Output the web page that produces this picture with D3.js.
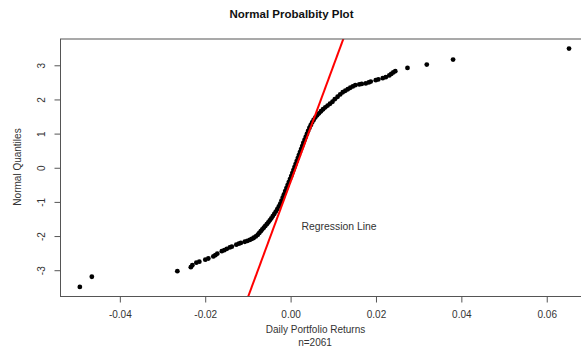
<!DOCTYPE html>
<html>
<head>
<meta charset="utf-8">
<script src="https://cdn.jsdelivr.net/npm/d3@7"></script>
<style>
  html, body { margin: 0; padding: 0; background: #fff; }
  svg { display: block; font-family: "Liberation Sans", Arial, sans-serif; }
</style>
</head>
<body>
<svg id="chart" width="581" height="347"></svg>
<script>
// Sorted daily portfolio returns (x)
const returns = [
  -0.04937, -0.04656, -0.02653, -0.02337, -0.02302, -0.02208, -0.02138, -0.01998, -0.01927, -0.01810,
  -0.01763, -0.01717, -0.01611, -0.01553, -0.01494, -0.01424, -0.01377, -0.01272, -0.01213, -0.01166,
  -0.01073, -0.01014, -0.00956, -0.00909, -0.00862, -0.00815, -0.00768, -0.00733, -0.00698, -0.00663,
  -0.00628, -0.00593, -0.00557, -0.00522, -0.00487, -0.00452, -0.00417, -0.00382, -0.00347, -0.00311,
  -0.00276, -0.00241, -0.00213, -0.00183, -0.00155, -0.00126, -0.00098, -0.00070, -0.00042, -0.00014,
   0.00014,  0.00040,  0.00066,  0.00091,  0.00117,  0.00143,  0.00169,  0.00194,  0.00220,  0.00246,
   0.00272,  0.00297,  0.00326,  0.00354,  0.00382,  0.00410,  0.00440,  0.00471,  0.00504,  0.00539,
   0.00578,  0.00621,  0.00665,  0.00712,  0.00761,  0.00813,  0.00867,  0.00923,  0.00981,  0.01035,
   0.01101,  0.01162,  0.01222,  0.01281,  0.01340,  0.01398,  0.01457,  0.01515,  0.01609,  0.01667,
   0.01761,  0.01831,  0.01878,  0.01995,  0.02054,  0.02159,  0.02230,  0.02311,  0.02358,  0.02405,
   0.02452,  0.02738,  0.03190,  0.03806,  0.06522
];
// Matching normal quantiles (y)
const quantiles = [
  -3.490, -3.191, -3.029, -2.912, -2.853, -2.780, -2.751, -2.692, -2.657, -2.598,
  -2.560, -2.516, -2.443, -2.413, -2.375, -2.334, -2.311, -2.252, -2.223, -2.202,
  -2.167, -2.144, -2.114, -2.085, -2.050, -2.012, -1.962, -1.909, -1.856, -1.804,
  -1.754, -1.704, -1.651, -1.598, -1.540, -1.481, -1.416, -1.352, -1.284, -1.211,
  -1.132, -1.050, -0.962, -0.868, -0.777, -0.683, -0.595, -0.507, -0.419, -0.331,
  -0.243, -0.155, -0.067,  0.021,  0.109,  0.196,  0.284,  0.372,  0.460,  0.548,
   0.636,  0.724,  0.812,  0.900,  0.988,  1.076,  1.164,  1.246,  1.326,  1.399,
   1.469,  1.534,  1.595,  1.654,  1.713,  1.768,  1.821,  1.874,  1.933,  2.009,
   2.079,  2.147,  2.211,  2.255,  2.299,  2.343,  2.381,  2.419,  2.440,  2.455,
   2.469,  2.499,  2.522,  2.563,  2.587,  2.622,  2.651,  2.704,  2.748,  2.792,
   2.827,  2.924,  3.021,  3.167,  3.490
];
const xTicks = [-0.04, -0.02, 0.00, 0.02, 0.04, 0.06];
const xTickLabels = ["-0.04", "-0.02", "0.00", "0.02", "0.04", "0.06"];
const yTicks = [-3, -2, -1, 0, 1, 2, 3];
const yTickLabels = ["-3", "-2", "-1", "0", "1", "2", "3"];
const regIntercept = -0.41;
const regSlope = 338.5;
const titleText = "Normal Probalbity Plot";
const xLabel = "Daily Portfolio Returns";
const subLabel = "n=2061";
const yLabel = "Normal Quantiles";
const regLabel = "Regression Line";

(function () {
  const svg = d3.select("#chart");
  svg.append("rect").attr("width", 581).attr("height", 347).attr("fill", "#fff");

  const pL = 60.5, pR = 589, pT = 39, pB = 296.5;
  const x = d3.scaleLinear().domain([-0.0539, 0.0699]).range([pL, pR]);
  const y = d3.scaleLinear().domain([-3.77, 3.77]).range([pB, pT]);

  svg.append("defs").append("clipPath").attr("id", "plotclip")
    .append("rect").attr("x", pL).attr("y", pT).attr("width", pR - pL).attr("height", pB - pT);

  // Points
  const pts = returns.map((r, i) => [r, quantiles[i]]);
  svg.append("g").selectAll("circle").data(pts).join("circle")
    .attr("cx", d => x(d[0])).attr("cy", d => y(d[1])).attr("r", 2.4).attr("fill", "#000");

  // Regression line
  const xd = x.domain();
  svg.append("line")
    .attr("clip-path", "url(#plotclip)")
    .attr("x1", x(xd[0])).attr("y1", y(regIntercept + regSlope * xd[0]))
    .attr("x2", x(xd[1])).attr("y2", y(regIntercept + regSlope * xd[1]))
    .attr("stroke", "#ff0000").attr("stroke-width", 2);

  // Box
  svg.append("rect").attr("x", pL).attr("y", pT).attr("width", pR - pL).attr("height", pB - pT)
    .attr("fill", "none").attr("stroke", "#555").attr("stroke-width", 1);

  // X axis
  const xAxis = d3.axisBottom(x).tickValues(xTicks).tickFormat((d, i) => xTickLabels[i]).tickSize(6).tickPadding(8);
  const gx = svg.append("g").attr("transform", `translate(0,${pB})`).call(xAxis);
  gx.select(".domain").remove();
  gx.selectAll(".tick line").attr("stroke", "#555");
  gx.selectAll(".tick text").attr("font-size", 10).attr("fill", "#333").attr("font-family", "Liberation Sans, Arial, sans-serif");

  // Y axis
  const yAxis = d3.axisLeft(y).tickValues(yTicks).tickFormat((d, i) => yTickLabels[i]).tickSize(6);
  const gy = svg.append("g").attr("transform", `translate(${pL},0)`).call(yAxis);
  gy.select(".domain").remove();
  gy.selectAll(".tick line").attr("stroke", "#555");
  gy.selectAll(".tick text")
    .attr("font-size", 10).attr("fill", "#333").attr("font-family", "Liberation Sans, Arial, sans-serif")
    .attr("x", 0).attr("dy", "0")
    .attr("text-anchor", "middle")
    .attr("transform", "translate(-15.5,0) rotate(-90)");

  // Titles
  svg.append("text").attr("x", 291.5).attr("y", 18).attr("text-anchor", "middle")
    .attr("font-size", 11.5).attr("font-weight", "bold").attr("fill", "#111").text(titleText);
  svg.append("text").attr("x", 315.5).attr("y", 332.5).attr("text-anchor", "middle")
    .attr("font-size", 10).attr("fill", "#333").text(xLabel);
  svg.append("text").attr("x", 315).attr("y", 345.5).attr("text-anchor", "middle")
    .attr("font-size", 10).attr("fill", "#333").text(subLabel);
  svg.append("text").attr("transform", "translate(21,167) rotate(-90)").attr("text-anchor", "middle")
    .attr("font-size", 10).attr("fill", "#333").text(yLabel);
  svg.append("text").attr("x", 339).attr("y", 229.5).attr("text-anchor", "middle")
    .attr("font-size", 10.4).attr("fill", "#333").text(regLabel);
})();
</script>
</body>
</html>
